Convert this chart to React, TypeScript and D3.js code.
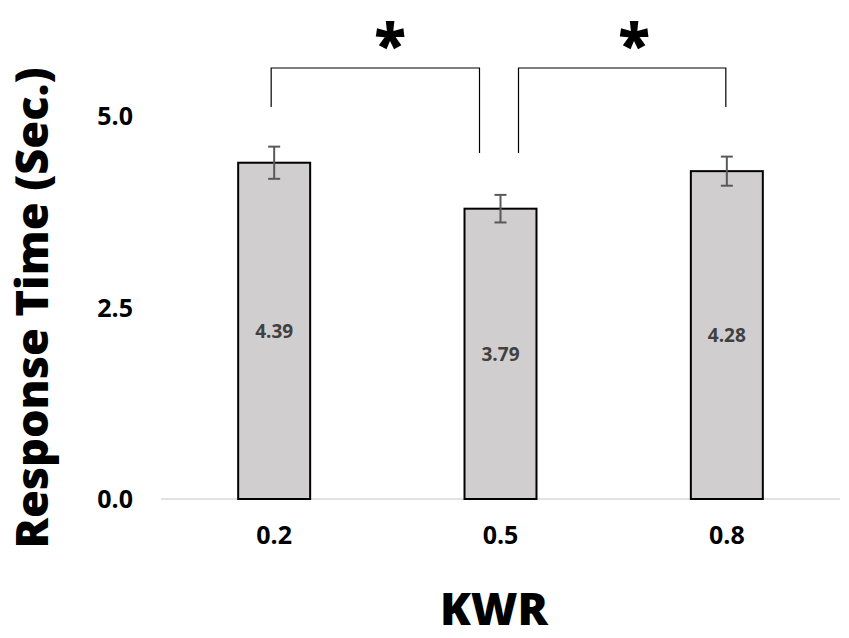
import React from "react";
import * as d3 from "d3";

const categories = ["0.2", "0.5", "0.8"];
const values = [4.39, 3.79, 4.28];
const errors = [0.21, 0.18, 0.19];
const yTicks = [0, 2.5, 5];
const labelText = ["4.39", "3.79", "4.28"];

const W = 849;
const H = 638;
const FONT = "'Open Sans', 'DejaVu Sans', sans-serif";

export default function App() {
  const x = d3.scaleBand<string>().domain(categories).range([161, 840]).paddingInner(0.682).paddingOuter(0.341);
  const y = d3.scaleLinear().domain([0, 5]).range([499, 116]);
  const bw = x.bandwidth();
  const cx = (c: string) => (x(c) as number) + bw / 2;

  const bracketTop = 68;
  const outerEnd = 107;
  const innerEnd = 153;

  return (
    <div style={{ position: "absolute", left: 0, top: 0 }}>
      <svg width={W} height={H} style={{ display: "block", background: "#fff" }}>
        <rect width={W} height={H} fill="#fff" />
        {/* baseline */}
        <line x1={161} x2={840} y1={y(0)} y2={y(0)} stroke="#d9d9d9" strokeWidth={1.5} />
        {/* y tick labels */}
        {yTicks.map((t) => (
          <text key={t} x={133} y={y(t)} dy="0.36em" textAnchor="end" fontFamily={FONT} fontWeight={700} fontSize={25} fill="#000">
            {d3.format(".1f")(t)}
          </text>
        ))}
        {/* bars */}
        {categories.map((c, i) => (
          <g key={c}>
            <rect x={x(c)} y={y(values[i])} width={bw} height={y(0) - y(values[i])} fill="#d0cece" stroke="#000" strokeWidth={2} />
            <text x={cx(c)} y={(y(values[i]) + y(0)) / 2} dy="0.36em" textAnchor="middle" fontFamily={FONT} fontWeight={700} fontSize={19} fill="#404040">
              {labelText[i]}
            </text>
            {/* error bar */}
            <g stroke="#595959" strokeWidth={2}>
              <line x1={cx(c)} x2={cx(c)} y1={y(values[i] + errors[i])} y2={y(values[i] - errors[i])} />
              <line x1={cx(c) - 6} x2={cx(c) + 6} y1={y(values[i] + errors[i])} y2={y(values[i] + errors[i])} />
              <line x1={cx(c) - 6} x2={cx(c) + 6} y1={y(values[i] - errors[i])} y2={y(values[i] - errors[i])} />
            </g>
            <text x={cx(c)} y={535} dy="0.36em" textAnchor="middle" fontFamily={FONT} fontWeight={700} fontSize={25} fill="#000">
              {c}
            </text>
          </g>
        ))}
        {/* significance brackets */}
        <path
          d={`M${cx("0.2") - 3},${outerEnd} V${bracketTop} H${cx("0.5") - 21} V${innerEnd}`}
          fill="none"
          stroke="#000"
          strokeWidth={1.2}
        />
        <path
          d={`M${cx("0.5") + 18},${innerEnd} V${bracketTop} H${cx("0.8") - 1} V${outerEnd}`}
          fill="none"
          stroke="#000"
          strokeWidth={1.2}
        />
        <text x={390} y={24} dy="0.72em" textAnchor="middle" fontFamily={FONT} fontWeight={800} fontSize={58} fill="#000">*</text>
        <text x={634} y={24} dy="0.72em" textAnchor="middle" fontFamily={FONT} fontWeight={800} fontSize={58} fill="#000">*</text>
        {/* axis titles */}
        <text transform="translate(48,308) rotate(-90)" textAnchor="middle" fontFamily={FONT} fontWeight={800} fontSize={45} fill="#000">
          Response Time (Sec.)
        </text>
        <text x={494} y={625} textAnchor="middle" fontFamily={FONT} fontWeight={800} fontSize={45} fill="#000">
          KWR
        </text>
      </svg>
    </div>
  );
}
